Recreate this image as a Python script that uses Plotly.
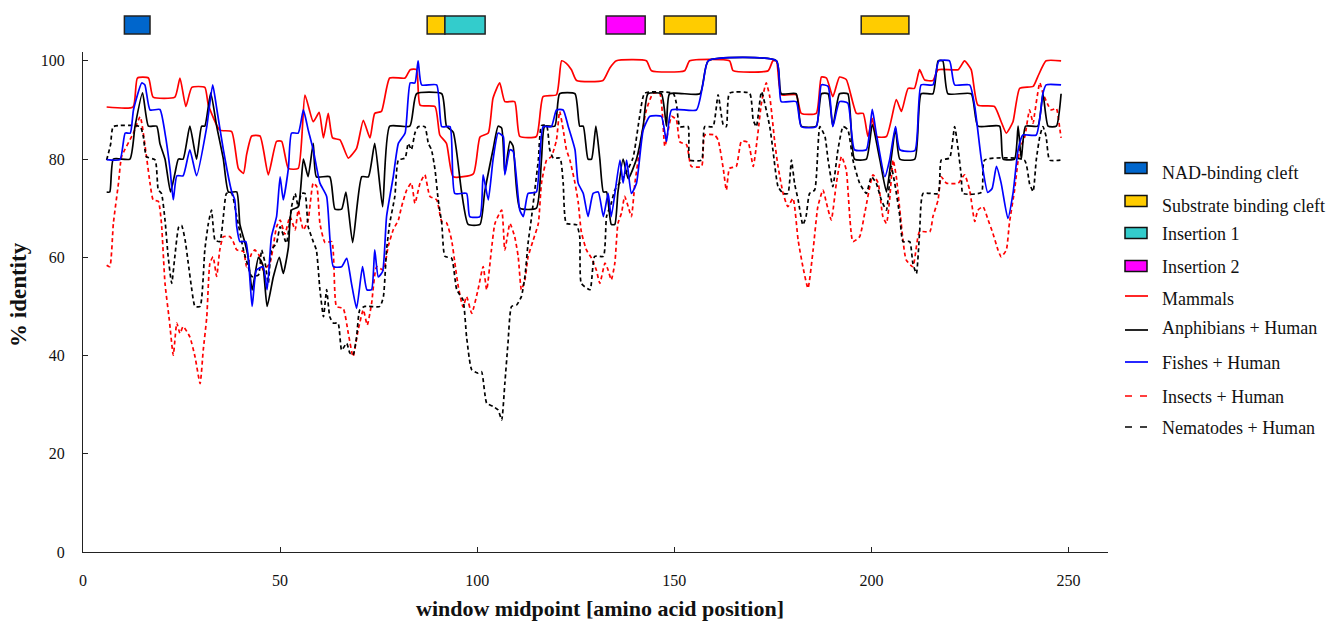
import plotly.graph_objects as go

# ---------------- data ----------------
X_TICKS = [0, 50, 100, 150, 200, 250]
Y_TICKS = [0, 20, 40, 60, 80, 100]

MAMMALS = [(6,90.6),(12.7,90.6),(13.8,96.5),(16.6,96.5),(17.8,92.6),(23.3,92.6),(24.6,96.5),(26.1,90.7),(27.6,94.6),(30.9,94.6),(31.8,91.0),(34.7,85.9),(37.7,85.6),(39.4,78.1),(40.7,77.1),(41.5,80.9),(42.8,84.7),(44.9,84.7),(47.0,76.8),(49.1,83.6),(50.4,83.6),(52.1,78.1),(54.6,78.1),(56.3,93.0),(58.4,87.6),(59.9,89.5),(61.0,84.3),(62.2,89.3),(63.3,84.3),(65.2,83.9),(67.3,80.2),(69.4,82.2),(71.1,87.9),(72.8,84.3),(74.0,89.3),(75.7,89.7),(77.8,96.5),(81.7,96.5),(83.0,98.2),(84.6,98.2),(85.5,91.0),(89.3,90.7),(90.5,84.9),(92.2,83.2),(93.9,76.4),(99.0,77.0),(100.7,84.5),(102.8,85.3),(104.0,92.4),(105.7,95.5),(107.0,91.7),(109.5,91.7),(110.8,84.6),(115.0,84.6),(116.7,92.7),(120.1,93.1),(121.4,100),(122.6,99.5),(123.9,98.2),(125.2,96.0),(131.9,96.0),(133.6,98.5),(135.3,100),(142.9,100),(144.2,98.0),(152.6,98.0),(153.9,100),(164.0,100),(164.9,98.0),(173.8,98.0),(175.0,100),(175.9,100),(177.1,93.1),(180.9,93.1),(182.2,89.3),(186.0,89.3),(187.3,96.7),(188.6,96.5),(190.2,92.7),(191.9,96.7),(193.6,96.2),(196.2,89.3),(197.9,89.3),(199.1,84.6),(200.2,88.3),(201.2,84.6),(203.8,84.6),(206.3,92.1),(207.6,89.7),(209.3,94.4),(210.9,94.4),(212.2,98.2),(213.5,96.1),(215.6,96.0),(216.9,98.2),(222.0,98.2),(223.6,100),(225.3,98.2),(227.0,91.0),(231.2,90.7),(232.9,87.6),(234.2,85.3),(235.9,87.6),(237.6,94.4),(241.0,94.8),(242.2,96.8),(244.3,100),(248.1,100)]

AMPHIBIANS = [(6,73.3),(6.8,73.3),(7.7,80),(11.9,80),(13.2,86.7),(15.1,93.5),(16.6,86.7),(18.7,86.7),(19.5,83.2),(20.8,80),(22.2,73.3),(23.3,77.0),(24.2,80),(25.4,80),(27.1,86.7),(28.8,80),(30.1,86.7),(30.9,86.7),(32.4,93.5),(33.9,86.7),(35.6,80),(36.9,73.3),(39.0,73.3),(39.8,66.7),(41.1,62.9),(41.9,60),(42.9,53.3),(44.5,60),(45.6,58.5),(46.7,50.0),(48.3,56.1),(49.8,60),(50.8,56.7),(52.1,62.0),(52.9,69.6),(54.6,70.3),(55.9,80),(57.1,76.4),(58.4,83.2),(59.2,76.4),(62.6,76.4),(63.9,69.8),(65.6,69.8),(66.7,73.3),(68.4,63.0),(70.7,76.4),(72.4,76.4),(74.0,83.2),(76.0,70.3),(77.8,86.7),(82.9,86.7),(84.6,93.3),(91.0,93.3),(92.2,86.7),(93.9,85.5),(96.0,73.5),(97.7,66.7),(100.7,66.7),(101.9,73.3),(104.0,81.9),(105.3,86.7),(106.2,86.3),(107.0,77.1),(108.3,83.6),(109.1,82.6),(110.8,70.0),(115.0,70.0),(116.3,80),(117.1,86.7),(119.7,86.7),(120.9,93.3),(124.8,93.3),(126.0,86.7),(126.9,86.7),(128.1,80),(129.0,80),(130.1,86.7),(131.1,80),(132.0,73.3),(132.8,73.3),(134.0,66.7),(134.9,66.7),(135.7,73.3),(137.0,80),(138.3,76.0),(140.4,80),(142.1,86.7),(143.3,93.3),(146.7,93.3),(148.0,86.7),(148.8,93.3),(156.5,93.3),(158.6,100),(175.9,100),(177.1,93.3),(180.9,93.3),(182.2,86.7),(186.0,86.7),(187.3,93.3),(189.0,93.3),(190.2,86.7),(191.9,93.3),(194.0,93.3),(195.7,80),(198.7,80),(200.2,87.0),(202.1,80),(203.8,73.3),(205.0,80),(206.1,86.3),(207.2,80),(211.0,80),(212.6,93.3),(215.6,93.3),(216.9,100),(218.1,100),(219.4,93.3),(225.3,93.3),(227.0,86.7),(232.5,86.7),(233.4,80),(236.3,80),(237.2,86.7),(238.0,80),(239.1,86.7),(242.2,86.7),(243.5,93.3),(244.8,86.7),(246.9,86.7),(248.1,93.3)]

FISHES = [(6,79.9),(9.4,79.9),(10.7,85.3),(12.0,85.3),(12.8,90.0),(14.9,95.5),(15.7,95.1),(17.0,90.0),(19.5,90.1),(20.8,85.3),(22.1,77.8),(22.9,71.7),(23.8,76.6),(25.4,76.6),(27.1,81.9),(28.8,76.6),(31.4,86.6),(32.9,95.1),(33.9,90.4),(35.6,81.9),(37.7,73.4),(38.5,71.7),(39.0,66.2),(39.8,63.2),(41.3,63.2),(42.9,50.0),(44.0,57.4),(45.7,58.1),(46.7,53.4),(47.8,64.2),(49.1,68.3),(50.0,76.4),(50.8,71.7),(52.1,78.1),(52.9,85.3),(54.6,85.3),(55.9,90.0),(57.1,86.0),(58.4,81.9),(60.1,75.1),(61.8,72.4),(63.5,58.1),(65.6,58.1),(66.9,59.8),(68.1,54.7),(69.4,49.6),(70.9,58.1),(72.0,53.4),(73.2,53.4),(74.0,61.5),(74.9,56.0),(76.0,57.1),(77.0,68.3),(78.7,76.4),(80.0,83.2),(81.7,85.3),(83.0,95.5),(84.2,95.5),(85.0,100),(85.9,95.1),(89.7,95.1),(91.0,86.6),(93.1,86.6),(94.3,73.0),(97.3,73.0),(98.1,68.3),(100.7,68.3),(101.5,76.8),(102.8,71.7),(104.0,79.8),(105.3,85.3),(106.6,84.6),(107.0,76.8),(108.3,81.9),(109.1,81.6),(110.8,69.6),(111.7,68.3),(112.9,73.0),(115.0,73.3),(116.7,86.6),(118.8,86.6),(120.1,90.0),(121.8,90.0),(123.1,86.6),(124.8,81.9),(125.6,75.1),(126.9,73.0),(128.1,68.3),(129.4,73.0),(130.7,73.3),(132.0,68.3),(133.2,73.0),(134.0,68.3),(136.2,79.8),(137.0,75.1),(137.9,79.8),(139.1,73.0),(140.4,75.1),(142.1,85.9),(143.8,88.7),(146.7,88.7),(148.0,83.6),(149.3,90.0),(155.6,90.0),(157.3,95.5),(158.6,100),(175.9,100),(177.1,91.7),(180.9,91.7),(182.2,86.6),(186.0,86.6),(187.3,95.1),(189.0,94.8),(190.2,86.6),(191.9,91.7),(194.0,91.4),(195.7,81.9),(198.7,81.9),(200.2,90.1),(201.2,85.3),(203.4,76.4),(204.6,79.8),(206.1,86.6),(207.2,81.9),(211.0,81.7),(212.6,95.1),(215.6,95.1),(217.1,100),(219.8,100),(221.1,95.1),(224.9,95.1),(226.2,90.7),(227.9,79.8),(229.5,73.2),(230.6,74.0),(231.7,78.5),(232.9,75.1),(234.6,67.9),(235.9,73.0),(237.2,81.9),(238.4,84.9),(241.8,84.9),(243.5,93.4),(244.3,95.1),(248.1,95.1)]

INSECTS = [(6,58.4),(6.8,58.1),(7.7,66.9),(9.0,75.1),(9.8,80.5),(12.8,85.3),(14.5,88.6),(16.1,80.5),(17.0,75.1),(17.8,71.7),(19.1,71.4),(19.9,66.9),(20.8,54.7),(21.9,47.2),(22.9,40.1),(23.8,46.6),(24.6,44.5),(25.4,45.9),(27.1,43.8),(28.4,39.8),(29.7,34.3),(30.5,41.1),(31.4,47.9),(32.2,58.8),(33.0,60.1),(33.9,56.1),(34.7,61.5),(35.6,64.2),(37.3,64.2),(38.1,63.2),(39.0,61.5),(40.7,61.2),(41.5,58.1),(42.8,60.8),(43.6,61.5),(44.9,60.1),(45.7,57.4),(47.4,58.8),(49.1,66.2),(50.0,67.6),(51.2,64.7),(52.5,68.3),(53.8,65.6),(54.6,69.6),(55.9,65.6),(57.1,67.6),(58.4,75.1),(59.3,74.4),(60.1,66.9),(61.4,63.0),(63.1,63.2),(64.3,50.0),(66.0,49.6),(67.3,44.5),(68.5,39.8),(69.8,45.2),(71.1,49.3),(72.1,46.2),(73.2,50.6),(74.5,58.1),(76.2,57.4),(77.4,62.2),(78.7,65.6),(80.0,67.6),(80.8,70.3),(82.1,73.7),(83.3,75.1),(84.2,71.0),(85.5,75.1),(86.7,76.8),(88.0,72.4),(89.7,71.7),(91.0,67.3),(92.2,67.0),(93.5,63.5),(94.3,59.0),(95.2,54.0),(96.4,49.9),(97.3,52.0),(98.6,48.6),(100.2,53.4),(101.5,58.1),(102.4,53.4),(103.6,61.5),(104.5,66.9),(106.2,69.6),(107.0,61.5),(108.3,66.9),(109.5,64.2),(110.4,60.1),(111.2,53.4),(112.1,55.4),(112.9,60.1),(114.2,63.5),(115.5,66.9),(116.3,75.1),(117.6,79.8),(118.8,80.5),(120.1,83.9),(120.9,89.7),(121.8,86.0),(122.6,82.0),(123.5,79.8),(124.8,75.1),(125.6,71.3),(126.4,65.2),(127.7,61.5),(129.0,59.8),(130.2,57.4),(131.1,54.7),(132.4,58.8),(133.2,57.4),(134.0,55.4),(134.9,58.8),(135.7,66.9),(136.6,69.0),(137.4,72.4),(138.3,70.3),(139.1,68.3),(140.0,75.1),(141.2,81.9),(142.1,86.6),(142.9,90.0),(144.6,93.4),(146.3,93.4),(147.6,82.6),(149.3,88.7),(150.5,88.0),(151.4,83.5),(153.1,82.9),(154.3,78.5),(156.9,78.5),(157.7,84.9),(160.2,84.9),(161.1,83.9),(162.4,78.1),(163.2,73.7),(164.0,78.1),(165.7,78.5),(167.0,83.6),(168.7,83.4),(170.0,78.5),(171.2,85.3),(172.1,91.4),(173.3,95.5),(174.2,92.7),(175.5,83.2),(176.3,78.5),(177.6,73.0),(178.8,70.3),(180.1,72.0),(181.4,63.5),(182.6,58.1),(183.9,53.7),(185.2,61.5),(186.4,70.3),(187.7,73.7),(188.6,71.0),(189.8,67.6),(191.1,75.1),(192.4,80.5),(193.6,77.8),(195.3,63.2),(197.0,64.2),(198.3,69.0),(200.4,76.8),(201.7,75.1),(202.9,68.3),(203.8,66.9),(204.6,71.7),(205.5,79.8),(206.3,76.4),(207.2,69.6),(208.8,59.5),(210.5,58.1),(212.2,65.2),(214.8,65.2),(215.6,68.3),(216.9,71.7),(217.7,76.4),(219.0,75.1),(222.0,75.1),(223.6,76.8),(224.9,73.7),(226.2,67.3),(227.0,69.6),(228.3,70.3),(229.6,67.6),(230.8,64.9),(232.1,61.5),(232.9,60.1),(234.2,61.5),(235.0,67.0),(236.3,73.7),(237.6,81.9),(238.9,84.6),(240.1,90.0),(241.0,87.3),(241.4,89.3),(242.7,95.5),(243.5,93.4),(244.8,91.0),(245.6,90.0),(246.9,90.3),(247.7,86.6),(248.1,84.3)]

NEMATODES = [(6.0,79.8),(7.0,83.0),(7.7,86.6),(14.5,86.6),(15.3,84.6),(16.1,80.5),(18.3,79.8),(19.1,73.7),(19.9,73.0),(20.8,67.6),(21.6,60.2),(22.5,54.7),(23.3,60.2),(24.3,66.2),(25.0,66.5),(25.9,63.5),(26.7,58.8),(27.6,53.4),(28.4,50.0),(29.7,50.0),(30.9,61.5),(31.8,66.9),(32.6,69.6),(33.5,63.5),(34.7,63.2),(35.6,68.3),(36.4,73.0),(37.7,73.0),(39.0,68.3),(40.7,61.5),(41.9,58.1),(42.8,56.1),(44.5,56.4),(45.3,61.5),(46.2,58.8),(47.0,54.7),(47.8,61.5),(49.1,62.9),(50.0,66.2),(51.6,62.9),(52.9,70.3),(53.8,73.0),(54.6,70.3),(55.4,73.0),(56.3,73.0),(57.1,66.3),(58.4,63.2),(59.2,61.5),(60.1,53.4),(61.0,47.9),(61.8,53.4),(62.6,47.9),(63.5,46.6),(64.7,46.6),(65.6,41.1),(66.9,42.5),(67.7,40.5),(68.5,40.1),(69.4,43.8),(70.2,49.3),(71.5,50.0),(75.3,50.0),(76.2,52.0),(77.0,61.5),(77.8,66.9),(79.1,72.4),(80.0,79.8),(81.7,80.2),(82.5,83.2),(83.3,81.9),(84.2,85.3),(85.0,86.6),(86.7,86.6),(87.6,83.2),(88.4,81.9),(89.3,77.8),(90.1,71.7),(91.0,66.9),(91.8,60.2),(93.5,59.8),(94.8,53.4),(96.4,51.3),(97.3,43.8),(98.6,37.1),(100.2,36.4),(101.1,36.7),(102.4,30.3),(104.1,29.6),(105.3,28.9),(106.2,26.9),(107.0,34.3),(107.8,42.5),(108.7,50.0),(110.0,50.3),(111.2,52.0),(112.1,56.1),(112.9,62.9),(113.8,68.3),(114.6,73.7),(115.5,79.8),(116.3,86.8),(117.6,86.8),(118.4,81.9),(119.3,80.2),(121.0,80.2),(121.8,75.1),(122.6,66.9),(125.2,66.6),(126.0,64.2),(126.4,54.7),(128.6,53.4),(129.8,60.2),(132.0,60.2),(132.8,68.3),(134.0,71.0),(134.9,73.7),(137.0,76.1),(139.5,80.2),(141.2,88.7),(142.5,93.4),(149.7,93.4),(150.5,91.4),(151.4,86.6),(153.5,86.6),(153.9,79.8),(156.9,79.8),(157.7,86.6),(159.8,86.6),(161.1,93.1),(162.4,87.0),(163.2,86.6),(164.0,93.4),(169.1,93.4),(170.0,88.0),(170.8,86.6),(172.1,93.7),(174.2,86.6),(175.0,81.9),(176.3,74.4),(177.6,73.0),(178.8,73.0),(179.7,79.8),(180.5,75.0),(181.4,71.7),(182.6,66.6),(183.4,68.3),(184.3,73.0),(185.6,73.7),(186.9,86.6),(188.2,84.6),(189.0,79.8),(190.2,74.4),(191.5,81.9),(192.8,86.6),(194.0,86.0),(195.3,79.8),(197.0,75.1),(198.7,73.0),(200.0,76.4),(201.2,75.1),(202.5,71.7),(203.8,69.6),(205.0,78.5),(205.9,75.1),(207.2,68.3),(208.0,63.2),(209.7,63.2),(210.5,58.8),(211.4,56.7),(212.2,64.9),(213.1,73.0),(216.9,73.0),(217.7,79.8),(219.8,80.2),(221.1,86.6),(222.0,81.9),(222.8,76.4),(223.2,73.0),(227.9,73.2),(228.7,79.8),(238.8,79.8),(240.1,75.0),(241.0,73.4),(241.8,79.8),(242.7,84.6),(243.5,86.6),(244.3,84.6),(245.2,79.8),(248.1,79.8)]

DOMAIN_NAMES = ["NAD-binding cleft", "Substrate binding cleft", "Insertion 1", "Insertion 2"]
DOMAIN_COLORS = ["#0066CC", "#FFCC00", "#33CCCC", "#FF00FF"]
DOMAIN_SPANS = [(10.5, 17.0, 0), (87.3, 91.8, 1), (91.8, 102.0, 2), (132.7, 142.6, 3), (147.4, 160.6, 1), (197.4, 209.5, 1)]

SERIES = [
    ("Insects + Human", INSECTS, "#FF0000", "4px,3px"),
    ("Nematodes + Human", NEMATODES, "#000000", "4px,3px"),
    ("Mammals", MAMMALS, "#FF0000", "solid"),
    ("Anphibians + Human", AMPHIBIANS, "#000000", "solid"),
    ("Fishes + Human", FISHES, "#0000FF", "solid"),
]
LEGEND_LINES = [
    ("Mammals", "#FF0000", "solid"),
    ("Anphibians + Human", "#000000", "solid"),
    ("Fishes + Human", "#0000FF", "solid"),
    ("Insects + Human", "#FF0000", "7px,8px"),
    ("Nematodes + Human", "#000000", "7px,8px"),
]

# ---------------- layout geometry (pixels) ----------------
W, H = 1330, 623
L, R, T, B = 83, 222, 52, 71
PW, PH = W - L - R, H - T - B
FONT = "Liberation Serif, Times New Roman, serif"


def px_x(p):
    return (p - L) / PW


def px_y(p):
    return (H - B - p) / PH


fig = go.Figure()
for name, pts, color, dash in SERIES:
    xs = [p[0] for p in pts]
    ys = [p[1] for p in pts]
    fig.add_trace(go.Scatter(x=xs, y=ys, mode="lines", name=name, showlegend=False,
                             hoverinfo="skip",
                             line=dict(color=color, width=1.7, dash=dash,
                                       shape="spline", smoothing=0.5)))

shapes = []
for x0, x1, k in DOMAIN_SPANS:
    shapes.append(dict(type="rect", xref="x", yref="paper", x0=x0, x1=x1,
                       y0=px_y(34), y1=px_y(16), fillcolor=DOMAIN_COLORS[k],
                       line=dict(color="#222222", width=1.5)))

annotations = []
box_centers = [168, 201, 233, 266]
box_text = [173, 206, 234, 267]
for i, name in enumerate(DOMAIN_NAMES):
    c = box_centers[i]
    shapes.append(dict(type="rect", xref="paper", yref="paper",
                       x0=px_x(1125), x1=px_x(1147), y0=px_y(c + 5.5), y1=px_y(c - 5.5),
                       fillcolor=DOMAIN_COLORS[i], line=dict(color="#111111", width=1.5)))
    annotations.append(dict(xref="paper", yref="paper", x=px_x(1160), y=px_y(box_text[i]),
                            text=name, showarrow=False, xanchor="left", yanchor="middle",
                            font=dict(family=FONT, size=18, color="#111")))

line_centers = [296, 330, 362, 396, 427]
line_text = [299, 328, 363, 397, 428]
for i, (name, color, dash) in enumerate(LEGEND_LINES):
    c = line_centers[i]
    shapes.append(dict(type="line", xref="paper", yref="paper",
                       x0=px_x(1125), x1=px_x(1148), y0=px_y(c), y1=px_y(c),
                       line=dict(color=color, width=1.7, dash=dash)))
    annotations.append(dict(xref="paper", yref="paper", x=px_x(1160), y=px_y(line_text[i]),
                            text=name, showarrow=False, xanchor="left", yanchor="middle",
                            font=dict(family=FONT, size=18, color="#111")))

annotations.append(dict(xref="paper", yref="paper", x=px_x(18), y=px_y(295),
                        text="<b>% identity</b>", textangle=-90, showarrow=False,
                        xanchor="center", yanchor="middle",
                        font=dict(family=FONT, size=23, color="#111")))
annotations.append(dict(xref="paper", yref="paper", x=px_x(600), y=px_y(608),
                        text="<b>window midpoint [amino acid position]</b>", showarrow=False,
                        xanchor="center", yanchor="middle",
                        font=dict(family=FONT, size=22, color="#111")))

fig.update_layout(
    width=W, height=H,
    margin=dict(l=L, r=R, t=T, b=B, pad=0),
    paper_bgcolor="white", plot_bgcolor="white",
    showlegend=False,
    shapes=shapes, annotations=annotations,
    font=dict(family=FONT, size=16, color="#111"),
)
fig.update_xaxes(range=[0, 260], tickvals=X_TICKS, ticks="inside", ticklen=5,
                 tickcolor="#222", showline=True, linecolor="#222", linewidth=1,
                 showgrid=False, zeroline=False, ticklabelstandoff=14,
                 tickfont=dict(family=FONT, size=16, color="#111"))
fig.update_yaxes(range=[0, 101.8], tickvals=Y_TICKS, ticks="inside", ticklen=5,
                 tickcolor="#222", showline=True, linecolor="#222", linewidth=1,
                 showgrid=False, zeroline=False, ticklabelstandoff=14,
                 tickfont=dict(family=FONT, size=16, color="#111"))

fig.write_html("out.html", config={"displayModeBar": False},
               post_script="document.body.style.margin='0';document.body.style.overflow='hidden';")
